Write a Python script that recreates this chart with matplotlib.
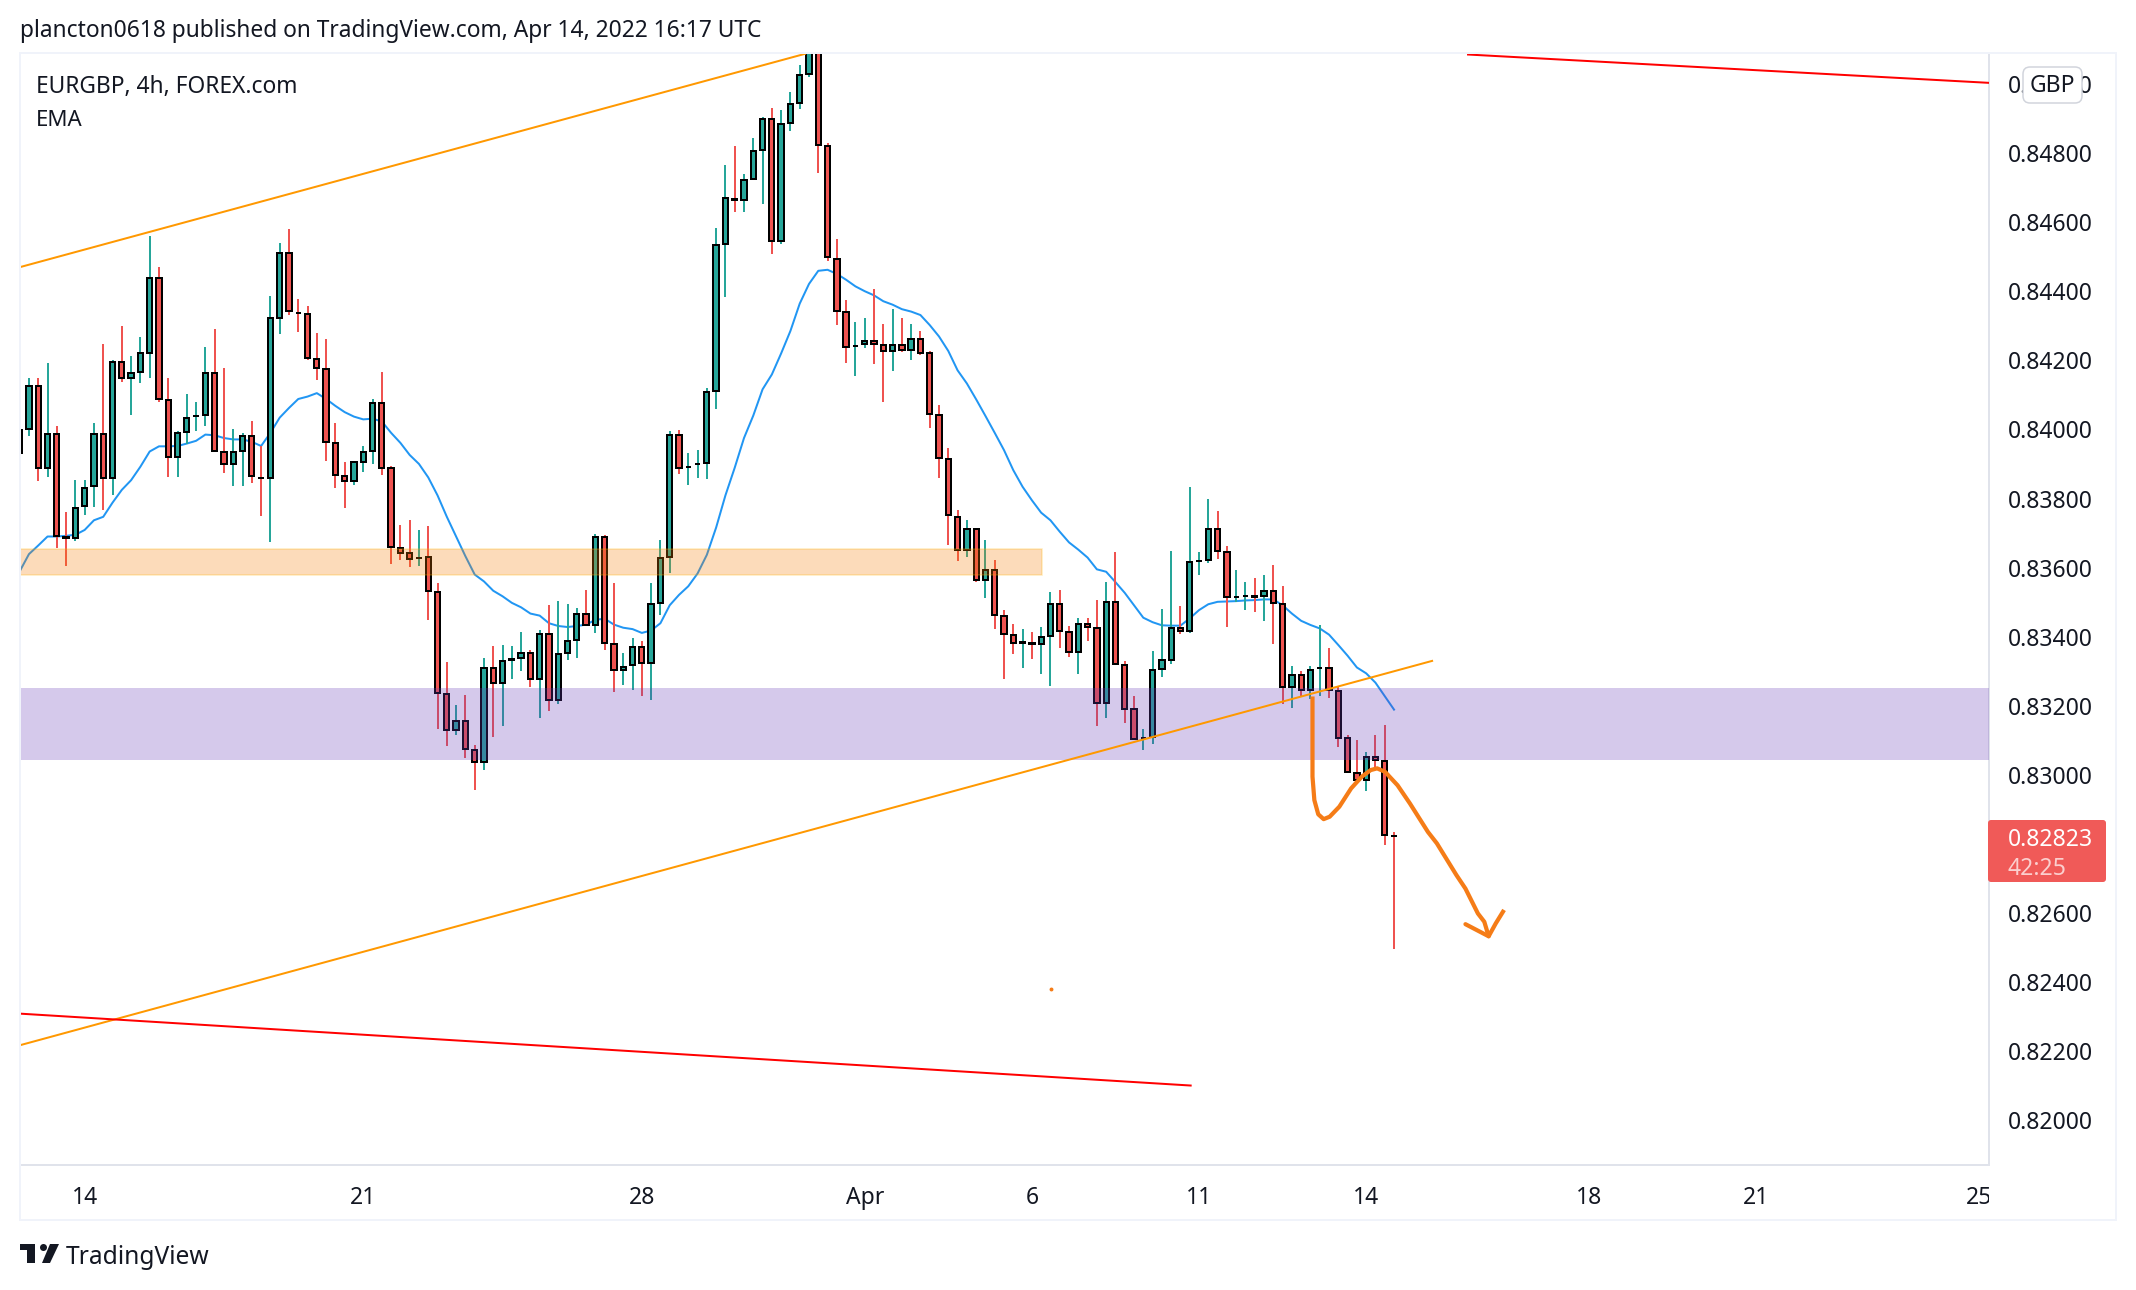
import numpy as np
import matplotlib
matplotlib.use('Agg')
import matplotlib.pyplot as plt
from matplotlib.patches import Rectangle, FancyBboxPatch, Polygon, Circle
from matplotlib.transforms import Bbox

W, H = 2136, 1290

# prices in 1e-5 units, one value per 4h bar
opens = np.array([
    83933, 84002, 84125, 83887, 83988, 83690, 83686, 83777, 83835, 83988,
    83860, 84196, 84149, 84166, 84222, 84439, 84085, 83921, 83993, 84039,
    84042, 84162, 83935, 83901, 83938, 83982, 83860, 83858, 84323, 84511,
    84338, 84335, 84205, 84176, 83961, 83866, 83851, 83907, 83938, 84077,
    83887, 83657, 83641, 83628, 83632, 83530, 83234, 83129, 83157, 83072,
    83037, 83310, 83265, 83334, 83339, 83353, 83279, 83408, 83216, 83353,
    83390, 83465, 83435, 83690, 83379, 83305, 83317, 83370, 83323, 83498,
    83632, 83984, 83891, 83899, 83903, 84110, 84537, 84666, 84665, 84725,
    84810, 84899, 84544, 84888, 84944, 85029, 85120, 84820, 84493, 84339,
    84241, 84246, 84256, 84244, 84227, 84244, 84231, 84262, 84220, 84041,
    83915, 83747, 83651, 83712, 83564, 83593, 83460, 83405, 83383, 83381,
    83378, 83402, 83495, 83414, 83355, 83437, 83426, 83207, 83501, 83318,
    83191, 83107, 83110, 83306, 83334, 83426, 83416, 83619, 83622, 83712,
    83645, 83515, 83517, 83517, 83517, 83532, 83494, 83255, 83289, 83245,
    83308, 83309, 83243, 83107, 83006, 82985, 83052, 83041, 82824]) / 1e5
closes = np.array([
    83998, 84125, 83887, 83988, 83692, 83686, 83773, 83831, 83988, 83860,
    84196, 84149, 84164, 84220, 84439, 84088, 83921, 83990, 84033, 84040,
    84162, 83938, 83901, 83935, 83982, 83865, 83859, 84321, 84511, 84344,
    84337, 84207, 84178, 83964, 83868, 83851, 83905, 83935, 84077, 83889,
    83661, 83643, 83625, 83629, 83532, 83237, 83129, 83156, 83074, 83037,
    83310, 83265, 83330, 83335, 83353, 83279, 83408, 83218, 83350, 83387,
    83465, 83435, 83690, 83382, 83305, 83313, 83370, 83323, 83494, 83628,
    83984, 83889, 83892, 83900, 84107, 84534, 84669, 84665, 84722, 84806,
    84899, 84544, 84884, 84943, 85026, 85120, 84823, 84498, 84342, 84239,
    84242, 84256, 84247, 84227, 84244, 84230, 84262, 84220, 84044, 83917,
    83752, 83652, 83712, 83564, 83593, 83462, 83407, 83381, 83384, 83380,
    83399, 83495, 83416, 83355, 83437, 83428, 83207, 83501, 83321, 83192,
    83105, 83108, 83303, 83332, 83426, 83416, 83616, 83620, 83712, 83648,
    83515, 83516, 83518, 83516, 83532, 83497, 83255, 83289, 83245, 83303,
    83309, 83245, 83108, 83008, 82985, 83051, 83043, 82826, 82823]) / 1e5
highs = np.array([
    84096, 84150, 84148, 84192, 84011, 83760, 83854, 83854, 84019, 84246,
    84200, 84298, 84212, 84267, 84559, 84470, 84148, 83995, 84102, 84078,
    84238, 84290, 84179, 84000, 83990, 84023, 83951, 84385, 84540, 84579,
    84377, 84356, 84279, 84261, 84019, 83907, 83907, 83951, 84088, 84166,
    83895, 83723, 83737, 83709, 83719, 83555, 83327, 83202, 83231, 83087,
    83338, 83373, 83377, 83373, 83413, 83362, 83418, 83491, 83503, 83494,
    83483, 83534, 83696, 83695, 83555, 83353, 83396, 83387, 83555, 83680,
    83994, 83997, 83932, 83939, 84119, 84583, 84764, 84820, 84738, 84843,
    84904, 84930, 84925, 84976, 85055, 85180, 85150, 84830, 84551, 84374,
    84311, 84321, 84407, 84306, 84349, 84321, 84306, 84286, 84226, 84071,
    83946, 83768, 83737, 83716, 83680, 83622, 83477, 83436, 83422, 83413,
    83428, 83529, 83535, 83431, 83454, 83454, 83506, 83558, 83645, 83329,
    83228, 83134, 83358, 83480, 83648, 83488, 83833, 83645, 83798, 83763,
    83662, 83593, 83558, 83570, 83578, 83607, 83546, 83315, 83300, 83315,
    83433, 83367, 83253, 83115, 83101, 83066, 83115, 83144, 82836]) / 1e5
lows = np.array([
    83928, 83982, 83851, 83861, 83656, 83606, 83678, 83752, 83775, 83768,
    83811, 84138, 84042, 84133, 84150, 84078, 83861, 83861, 83959, 83995,
    84009, 83936, 83874, 83837, 83837, 83845, 83750, 83675, 84276, 84331,
    84282, 84202, 84143, 83909, 83831, 83773, 83839, 83876, 83899, 83868,
    83610, 83622, 83601, 83606, 83448, 83133, 83084, 83116, 83049, 82956,
    83014, 83111, 83143, 83277, 83301, 83255, 83166, 83186, 83205, 83334,
    83339, 83433, 83411, 83362, 83241, 83259, 83246, 83229, 83218, 83464,
    83583, 83870, 83838, 83860, 83857, 84059, 84384, 84629, 84629, 84723,
    84652, 84508, 84537, 84863, 84928, 85021, 84741, 84488, 84303, 84191,
    84154, 84237, 84188, 84080, 84168, 84223, 84200, 84214, 84005, 83860,
    83665, 83618, 83631, 83559, 83513, 83422, 83277, 83350, 83309, 83335,
    83292, 83257, 83367, 83341, 83292, 83387, 83141, 83165, 83321, 83151,
    83103, 83072, 83089, 83283, 83321, 83407, 83411, 83578, 83614, 83625,
    83428, 83501, 83477, 83471, 83445, 83378, 83205, 83193, 83228, 83221,
    83228, 83222, 83081, 83008, 82983, 82954, 83014, 82797, 82496]) / 1e5
ema = np.array([
    83589, 83639, 83664, 83690, 83690, 83692, 83695, 83709, 83737, 83747,
    83788, 83825, 83853, 83892, 83936, 83951, 83951, 83952, 83959, 83967,
    83985, 83983, 83975, 83971, 83971, 83964, 83952, 83990, 84034, 84062,
    84088, 84095, 84105, 84088, 84068, 84050, 84037, 84029, 84031, 84023,
    83990, 83961, 83926, 83900, 83861, 83809, 83747, 83690, 83633, 83580,
    83560, 83533, 83517, 83498, 83485, 83467, 83461, 83439, 83431, 83428,
    83431, 83435, 83449, 83452, 83435, 83426, 83422, 83411, 83418, 83439,
    83491, 83521, 83546, 83583, 83637, 83716, 83809, 83889, 83975, 84040,
    84116, 84159, 84220, 84285, 84364, 84421, 84459, 84462, 84450, 84433,
    84414, 84400, 84388, 84371, 84361, 84348, 84341, 84331, 84302, 84269,
    84227, 84171, 84133, 84087, 84039, 83990, 83940, 83882, 83834, 83795,
    83759, 83737, 83704, 83673, 83652, 83629, 83595, 83588, 83558, 83527,
    83491, 83455, 83442, 83433, 83432, 83432, 83453, 83477, 83494, 83501,
    83502, 83503, 83505, 83506, 83508, 83508, 83491, 83467, 83446, 83434,
    83424, 83406, 83376, 83345, 83311, 83294, 83267, 83228, 83189]) / 1e5

# drawings on the chart: bar number and price
channel_top = ([0.08, 84.57], [0.84470, 0.85087])
channel_bottom = ([0.08, 152.1], [0.82218, 0.83330])
red_top = ([155.97, 212.07], [0.85085, 0.85003])
red_bottom = ([0.08, 126.1], [0.82309, 0.82101])
orange_zone = (0.83579, 0.83654)
orange_zone_end = 110.1
purple_zone = (0.83043, 0.83252)
sketch_x = [139.22, 139.22, 139.42, 139.84, 140.42, 141.07, 142.11, 143.38, 144.53, 145.49, 146.18,
            147.03, 148.38, 149.72, 151.65, 152.61, 154.72, 155.69, 157.03, 157.72, 158.19, 158.95, 159.73]
sketch_y = [0.83221, 0.82995, 0.82927, 0.82886, 0.82872, 0.82879, 0.82908, 0.82961, 0.82995, 0.83014, 0.83019,
            0.83009, 0.82970, 0.82917, 0.82835, 0.82802, 0.82710, 0.82671, 0.82599, 0.82575, 0.82533, 0.82570, 0.82604]
arrow_x = [155.69, 158.19]
arrow_y = [0.82568, 0.82533]
dot = (111.1, 0.82380)

# 0.82800 sits behind the last price tag and does not show
price_ticks = [0.82, 0.822, 0.824, 0.826, 0.83, 0.832, 0.834, 0.836, 0.838,
               0.84, 0.842, 0.844, 0.846, 0.848, 0.85]
date_bars = [7, 37, 67, 91, 109, 127, 145, 169, 187, 211]
date_labels = ['14', '21', '28', 'Apr', '6', '11', '14', '18', '21', '25']

UP = '#26A69A'
DOWN = '#EF5350'
TEXT = '#131722'
px = 0.72  # one image pixel in points at dpi 100

plt.rcParams['font.family'] = ['Noto Sans', 'DejaVu Sans']

fig = plt.figure(figsize=(W / 100, H / 100), dpi=100, facecolor='white')

# outer frame
fig.add_artist(Rectangle((20 / W, 1 - 1220 / H), 2096 / W, 1167 / H, transform=fig.transFigure,
                         fill=False, edgecolor='#F0F3FA', lw=2 * px))

ax = fig.add_axes([20 / W, 1 - 1165 / H, 1969 / W, 1111 / H])
ax.set_xlim(0.036, 212.07)
ax.set_ylim(0.81871, 0.850865)
for side in ('top', 'left'):
    ax.spines[side].set_visible(False)
for side in ('right', 'bottom'):
    ax.spines[side].set_color('#E0E3EB')
    ax.spines[side].set_linewidth(2 * px)

bars = np.arange(len(opens))
rising = closes >= opens
colors = np.where(rising, UP, DOWN)

ax.plot(bars, ema, color='#2196F3', lw=2 * px, zorder=2, solid_joinstyle='round')
ax.vlines(bars, lows, highs, colors=colors, lw=2 * px, zorder=3)
ax.bar(bars, closes - opens, bottom=opens, width=0.57, color=colors, edgecolor='black',
       linewidth=2 * px, zorder=4)

ax.axhspan(*orange_zone, xmax=(orange_zone_end - 0.036) / (212.07 - 0.036), facecolor='#F57C00', alpha=0.27,
           edgecolor='#FFB300', lw=1.5 * px, zorder=5)
ax.axhspan(*purple_zone, facecolor='#673AB7', alpha=0.27, edgecolor='none', zorder=5)

ax.plot(*channel_top, color='#FF9800', lw=2 * px, zorder=6)
ax.plot(*channel_bottom, color='#FF9800', lw=2 * px, zorder=6)
ax.plot(*red_top, color='#FF0000', lw=2 * px, zorder=6)
ax.plot(*red_bottom, color='#FF0000', lw=2 * px, zorder=6)
ax.plot(sketch_x, sketch_y, color='#F57C17', lw=4.2 * px, zorder=7, solid_joinstyle='round')
ax.plot(arrow_x, arrow_y, color='#F57C17', lw=4.2 * px, zorder=7, solid_capstyle='round')
ax.plot(*dot, marker='o', ms=1.8, color='#F57C17', zorder=7)

ax.yaxis.tick_right()
ax.set_yticks(price_ticks)
ax.set_yticklabels(['%.5f' % p for p in price_ticks])
ax.set_xticks(date_bars)
ax.set_xticklabels(date_labels)
ax.tick_params(axis='y', length=0, pad=13.5, labelsize=16.5, labelcolor=TEXT)
ax.tick_params(axis='x', length=0, pad=15, labelsize=16.5, labelcolor=TEXT)

# the last date label is cut by the price scale
fig.canvas.draw()
last_label = ax.get_xticklabels()[-1]
last_label.set_clip_box(Bbox([[0, 0], [1989, H]]))
last_label.set_clip_on(True)


def fx(x):
    return x / W


def fy(y):
    return 1 - y / H


fig.text(fx(20), fy(31), 'plancton0618 published on TradingView.com, Apr 14, 2022 16:17 UTC',
         fontsize=16.4, color=TEXT, va='center', ha='left')
fig.text(fx(36), fy(87), 'EURGBP, 4h, FOREX.com', fontsize=16.4, color=TEXT, va='center', ha='left')
fig.text(fx(36), fy(121), 'EMA', fontsize=16.0, color=TEXT, va='center', ha='left')

# currency button above the scale
fig.add_artist(FancyBboxPatch((2027, H - 99), 51, 28, boxstyle='round,pad=4,rounding_size=7',
                              transform=None, facecolor='white', edgecolor='#D1D4DC', lw=1.5 * px, zorder=10))
fig.text(fx(2052.5), fy(86), 'GBP', fontsize=16.5, color=TEXT, va='center', ha='center', zorder=11)

# last price tag
fig.add_artist(FancyBboxPatch((1988, H - 882), 118, 62, boxstyle='round,pad=0,rounding_size=3',
                              transform=None, facecolor='#F05A58', edgecolor='none', zorder=10))
fig.text(fx(2008), fy(840), '0.82823', fontsize=16.5, color='white', va='center', ha='left', zorder=11)
fig.text(fx(2008), fy(869), '42:25', fontsize=16.5, color='#FBCFCE', va='center', ha='left', zorder=11)

# logo and name at the bottom
fig.add_artist(Polygon([[20, H - 1244], [35, H - 1244], [35, H - 1263], [27, H - 1263], [27, H - 1250], [20, H - 1250]],
                       transform=None, facecolor=TEXT, edgecolor='none'))
fig.add_artist(Circle((43.5, H - 1247.5), 3.5, transform=None, facecolor=TEXT, edgecolor='none'))
fig.add_artist(Polygon([[50, H - 1244], [59, H - 1244], [50, H - 1263], [42, H - 1263]],
                       transform=None, facecolor=TEXT, edgecolor='none'))
fig.text(fx(66), fy(1257), 'TradingView', fontsize=17.7, color=TEXT, va='center', ha='left')

fig.savefig('out.png', dpi=100)
